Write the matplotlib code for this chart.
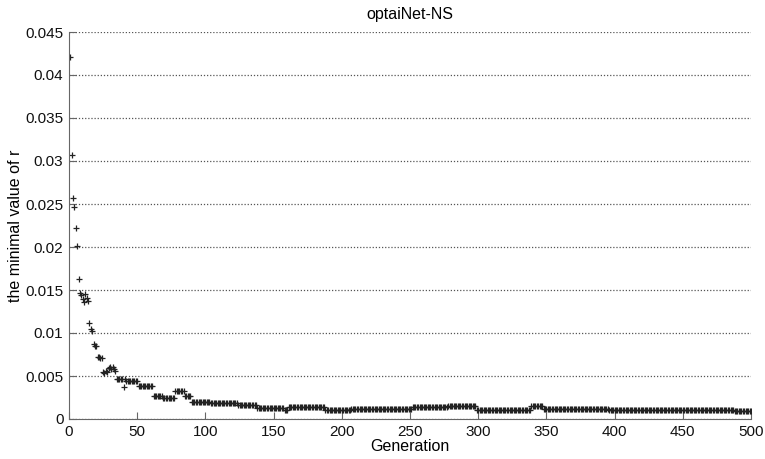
import numpy as np
import matplotlib
matplotlib.use("Agg")
import matplotlib.pyplot as plt

plt.rcParams['font.family'] = ['Liberation Sans', 'DejaVu Sans']

# best r for the first generations, one value each (gen 1..34)
early_vals = [0.0421, 0.0307, 0.0257, 0.0247, 0.0222, 0.0201, 0.0163, 0.0147,
              0.0144, 0.0140, 0.0136, 0.0145, 0.0141, 0.0137, 0.0112, 0.0105,
              0.0102, 0.0087, 0.0085, 0.0085, 0.0072, 0.0072, 0.0071, 0.0071,
              0.0055, 0.0054, 0.0056, 0.0055, 0.0059, 0.0060, 0.0058, 0.0060,
              0.0058, 0.0056]

# later generations stay flat for a while: (first gen, last gen, value)
seg_start = [35, 40, 41, 42, 51, 62, 69, 78, 85, 90, 104, 124, 138, 158,
             161, 188, 207, 252, 278, 299, 339, 348, 396, 436, 488]
seg_end = [39, 40, 41, 50, 61, 68, 77, 84, 89, 103, 123, 137, 157, 160,
           187, 206, 251, 277, 298, 338, 347, 395, 435, 487, 500]
seg_val = [0.0046, 0.0037, 0.0046, 0.0044, 0.0038, 0.0027, 0.0025, 0.0032,
           0.0027, 0.0020, 0.0019, 0.0016, 0.0013, 0.0011, 0.0014, 0.0011,
           0.0012, 0.0014, 0.0015, 0.0011, 0.0015, 0.0012, 0.0011, 0.0010,
           0.0009]

seg_len = np.array(seg_end) - np.array(seg_start) + 1
r_min = np.concatenate([early_vals, np.repeat(seg_val, seg_len)])
gen = np.arange(1, len(r_min) + 1)

fig = plt.figure(figsize=(7.65, 4.59), dpi=100)
ax = fig.add_axes([69/765, 1 - 419/459, (751 - 69)/765, (419 - 32)/459])

ax.plot(gen, r_min, '+', color='#222222', markersize=5, markeredgewidth=0.9)

ax.set_xlim(0, 500)
ax.set_ylim(0, 0.045)
ax.set_xticks(np.arange(0, 501, 50))
ax.set_yticks(np.arange(0, 0.0451, 0.005))
ax.set_yticklabels(['0', '0.005', '0.01', '0.015', '0.02', '0.025',
                    '0.03', '0.035', '0.04', '0.045'])

ax.yaxis.grid(True, linestyle=(0, (1, 1.5)), color='#555555', linewidth=0.9)
ax.set_axisbelow(True)

for s in ['top', 'right']:
    ax.spines[s].set_visible(False)
for s in ['left', 'bottom']:
    ax.spines[s].set_color('#666666')
ax.tick_params(direction='in', length=5, color='#666666', labelsize=11,
               labelcolor='#111111', pad=4)

ax.set_title('optaiNet-NS', fontsize=11.5, pad=9)
ax.set_xlabel('Generation', fontsize=11.5, labelpad=0)
ax.set_ylabel('the minimal value of r', fontsize=11.5, labelpad=2)

fig.savefig('out.png', dpi=100)
